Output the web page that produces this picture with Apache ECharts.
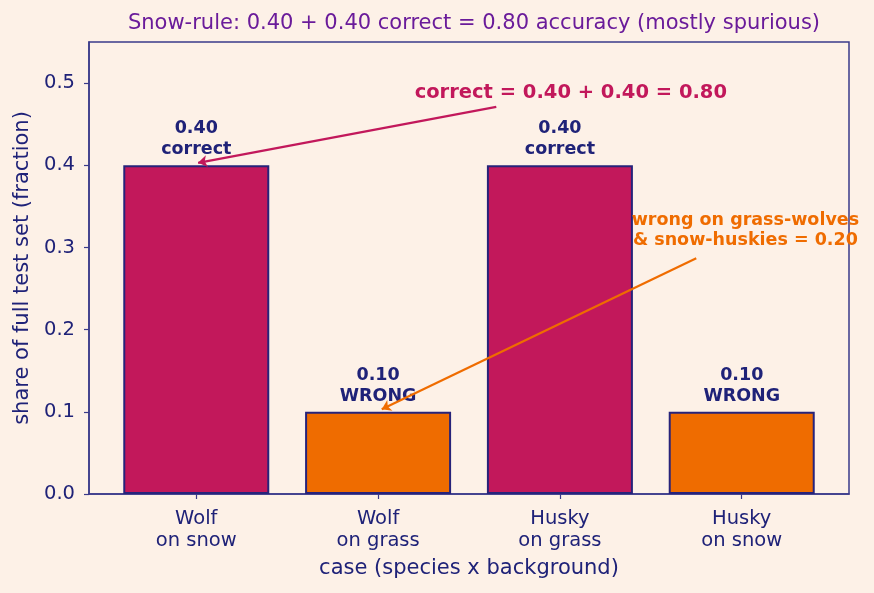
<!DOCTYPE html>
<html>
<head>
<meta charset="utf-8">
<script src="https://cdn.jsdelivr.net/npm/echarts@6/dist/echarts.min.js"></script>
<style>
  html, body { margin: 0; padding: 0; background: #fdf1e7; }
  #chart { width: 874px; height: 593px; }
</style>
</head>
<body>
<div id="chart"></div>
<script>
// data
const cases = ['Wolf\non snow', 'Wolf\non grass', 'Husky\non grass', 'Husky\non snow'];
const shares = [0.40, 0.10, 0.40, 0.10];
const verdicts = ['correct', 'WRONG', 'correct', 'WRONG'];
const barColors = ['#c2185b', '#ef6c00', '#c2185b', '#ef6c00'];
const yTicks = [0, 0.1, 0.2, 0.3, 0.4, 0.5];
const xTicks = [0, 1, 2, 3];

const navy = '#1f2278';
const frame = '#3a3a8a';
const font = 'DejaVu Sans';

const chart = echarts.init(document.getElementById('chart'));

chart.setOption({
    backgroundColor: '#fdf1e7',
    textStyle: { fontFamily: font },
    title: {
        text: 'Snow-rule: 0.40 + 0.40 correct = 0.80 accuracy (mostly spurious)',
        left: 469, top: 8, textAlign: 'center',
        textStyle: { color: '#6a1b9a', fontSize: 21, fontWeight: 'normal', fontFamily: font }
    },
    grid: { left: 89, right: 25, top: 42, bottom: 99, show: true, borderColor: frame, borderWidth: 1.5, backgroundColor: 'transparent' },
    xAxis: {
        type: 'value', min: -0.59, max: 3.59,
        name: 'case (species x background)', nameLocation: 'middle', nameGap: 64,
        nameTextStyle: { color: navy, fontSize: 21, fontFamily: font },
        axisLine: { show: true, onZero: false, lineStyle: { color: frame, width: 1.5 } },
        axisTick: { show: true, length: 5, lineStyle: { color: frame, width: 1.2 }, customValues: xTicks },
        axisLabel: {
            color: navy, fontSize: 19.5, margin: 14, lineHeight: 22, fontFamily: font,
            customValues: xTicks,
            formatter: v => cases[Math.round(v)]
        },
        splitLine: { show: false }
    },
    yAxis: {
        type: 'value', min: 0, max: 0.55,
        name: 'share of full test set (fraction)', nameLocation: 'middle', nameGap: 56,
        nameTextStyle: { color: navy, fontSize: 21, fontFamily: font },
        axisLine: { show: true, onZero: false, lineStyle: { color: frame, width: 1.5 } },
        axisTick: { show: true, length: 5, lineStyle: { color: frame, width: 1.2 }, customValues: yTicks },
        axisLabel: { color: navy, fontSize: 19.5, margin: 14, fontFamily: font, customValues: yTicks, formatter: v => v.toFixed(1) },
        splitLine: { show: false }
    },
    series: [{
        type: 'bar',
        barWidth: 146,
        data: shares.map((v, i) => ({
            value: [i, v],
            itemStyle: { color: barColors[i], borderColor: '#27237a', borderWidth: 2 }
        })),
        label: {
            show: true, position: 'top', distance: 5,
            color: navy, fontSize: 17.5, fontWeight: 'bold', lineHeight: 21, fontFamily: font,
            formatter: p => shares[p.dataIndex].toFixed(2) + '\n' + verdicts[p.dataIndex]
        },
        markLine: {
            silent: true,
            symbol: ['none', 'arrow'], symbolSize: [9, 9],
            label: { show: false },
            data: [
                [{ coord: [1.65, 0.471], lineStyle: { color: '#c2185b', width: 2.2, type: 'solid' } }, { coord: [0.01, 0.403] }],
                [{ coord: [2.75, 0.287], lineStyle: { color: '#ef6c00', width: 2.2, type: 'solid' } }, { coord: [1.02, 0.103] }]
            ]
        },
        markPoint: {
            silent: true,
            symbol: 'circle', symbolSize: 0,
            data: [
                {
                    coord: [2.06, 0.488],
                    label: { show: true, formatter: 'correct = 0.40 + 0.40 = 0.80', color: '#c2185b', fontSize: 19.5, fontWeight: 'bold', fontFamily: font, position: 'inside' }
                },
                {
                    coord: [3.02, 0.321],
                    label: { show: true, formatter: 'wrong on grass-wolves\n& snow-huskies = 0.20', color: '#ef6c00', fontSize: 17.5, fontWeight: 'bold', lineHeight: 20, fontFamily: font, position: 'inside' }
                }
            ]
        }
    }]
});
</script>
</body>
</html>
